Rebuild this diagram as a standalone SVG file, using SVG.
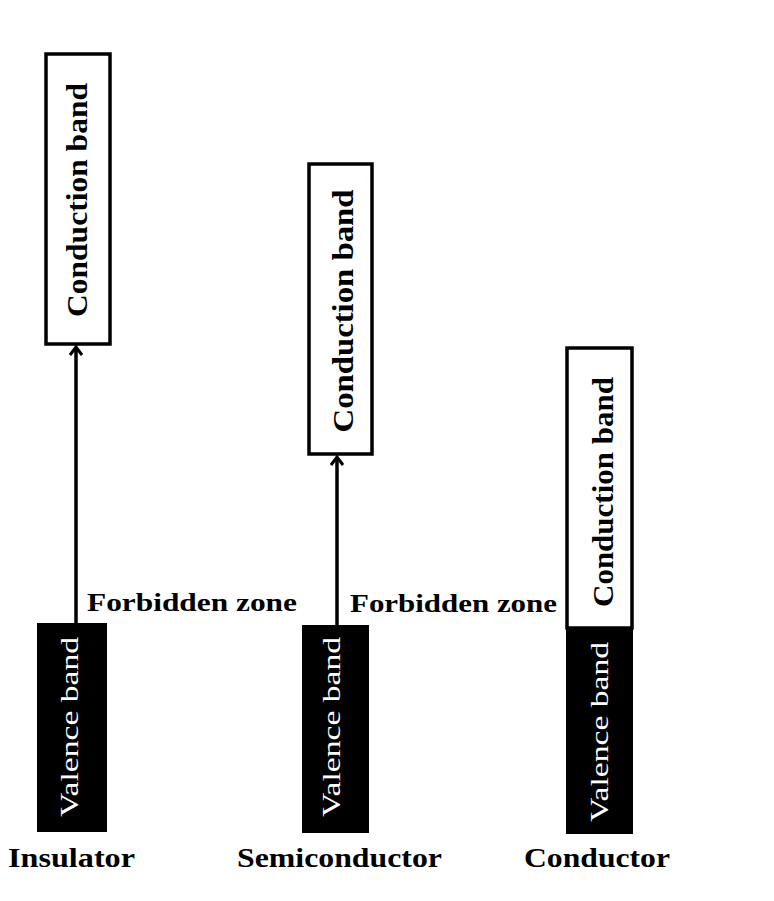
<svg xmlns="http://www.w3.org/2000/svg" width="774" height="901" viewBox="0 0 774 901">
<style>
.cb{fill:#fff;stroke:#000;stroke-width:3.5}
.vb{fill:#000;stroke:#000;stroke-width:2}
.t{font-family:"Liberation Serif","Times New Roman",serif;font-weight:bold;fill:#000}
.bt{font-size:30px;text-anchor:middle;dominant-baseline:central}
.vt{font-size:25px;fill:#fff;text-anchor:middle;dominant-baseline:central;font-weight:normal}
.lb{font-size:28px}
.fz{font-size:26px}
.ar{stroke:#000;stroke-width:3.5;fill:none}
</style>
<defs>
<marker id="ah" markerWidth="14" markerHeight="14" refX="11" refY="7" orient="auto" markerUnits="userSpaceOnUse" viewBox="0 0 14 14">
<path d="M3,1 L11,7 L3,13" fill="none" stroke="#000" stroke-width="3"/>
</marker>
</defs>
<rect width="774" height="901" fill="#fff"/>
<g id="connectors">
<line class="ar" x1="76" y1="623" x2="76" y2="347" marker-end="url(#ah)"/>
<line class="ar" x1="337" y1="625" x2="337" y2="457" marker-end="url(#ah)"/>
</g>
<g id="insulator-conduction">
<rect class="cb" x="46" y="54" width="64" height="290"/>
<text class="t bt" transform="translate(76,200) rotate(-90)" textLength="234" lengthAdjust="spacingAndGlyphs">Conduction band</text>
</g>
<g id="insulator-valence">
<rect class="vb" x="38" y="624" width="68" height="207"/>
<text class="t vt" transform="translate(69,727) rotate(-90)" textLength="180" lengthAdjust="spacingAndGlyphs">Valence band</text>
</g>
<g id="semi-conduction">
<rect class="cb" x="309" y="164" width="63" height="290"/>
<text class="t bt" transform="translate(342,311) rotate(-90)" textLength="243" lengthAdjust="spacingAndGlyphs">Conduction band</text>
</g>
<g id="semi-valence">
<rect class="vb" x="303" y="626" width="65" height="206"/>
<text class="t vt" transform="translate(331,727) rotate(-90)" textLength="180" lengthAdjust="spacingAndGlyphs">Valence band</text>
</g>
<g id="conductor">
<rect class="vb" x="567" y="628" width="65" height="205"/>
<rect class="cb" x="567" y="348" width="65" height="280"/>
<text class="t bt" transform="translate(602,492) rotate(-90)" textLength="230" lengthAdjust="spacingAndGlyphs">Conduction band</text>
<text class="t vt" transform="translate(599,732) rotate(-90)" textLength="180" lengthAdjust="spacingAndGlyphs">Valence band</text>
</g>
<g id="labels">
<text class="t fz" x="87" y="611" textLength="210" lengthAdjust="spacingAndGlyphs">Forbidden zone</text>
<text class="t fz" x="350" y="612" textLength="207" lengthAdjust="spacingAndGlyphs">Forbidden zone</text>
<text class="t lb" x="8" y="867" textLength="127" lengthAdjust="spacingAndGlyphs">Insulator</text>
<text class="t lb" x="237" y="867" textLength="205" lengthAdjust="spacingAndGlyphs">Semiconductor</text>
<text class="t lb" x="524" y="867" textLength="146" lengthAdjust="spacingAndGlyphs">Conductor</text>
</g>
</svg>
